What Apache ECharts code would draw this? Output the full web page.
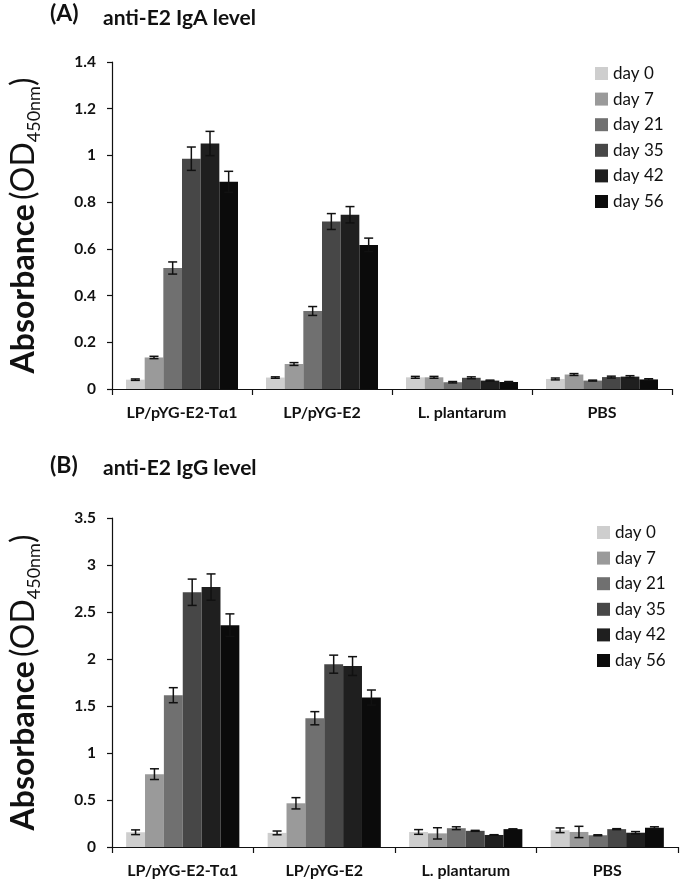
<!DOCTYPE html>
<html>
<head>
<meta charset="utf-8">
<script src="https://cdn.jsdelivr.net/npm/echarts@6/dist/echarts.min.js"></script>
<style>
html,body{margin:0;padding:0;background:#fff;}
#chart{width:680px;height:885px;}
</style>
</head>
<body>
<div id="chart"></div>
<script>
// ---- data ----
const categories = ['LP/pYG-E2-T\u03b11', 'LP/pYG-E2', 'L. plantarum', 'PBS'];
const days = ['day 0', 'day 7', 'day 21', 'day 35', 'day 42', 'day 56'];
const yTicksA = [0, 1.4, 0.2];   // min, max, interval
const yTicksB = [0, 3.5, 0.5];

// IgA means: one row per day, columns follow categories
const igaMeans = [
  [0.040, 0.049, 0.050, 0.043],
  [0.135, 0.107, 0.050, 0.062],
  [0.518, 0.334, 0.029, 0.036],
  [0.986, 0.717, 0.048, 0.051],
  [1.051, 0.746, 0.036, 0.053],
  [0.887, 0.617, 0.030, 0.041]
];
const igaErrors = [
  [0.003, 0.003, 0.004, 0.004],
  [0.005, 0.006, 0.004, 0.004],
  [0.026, 0.019, 0.003, 0.002],
  [0.050, 0.034, 0.004, 0.004],
  [0.052, 0.035, 0.002, 0.004],
  [0.045, 0.029, 0.002, 0.003]
];
// IgG means / errors
const iggMeans = [
  [0.157, 0.150, 0.160, 0.178],
  [0.775, 0.465, 0.145, 0.160],
  [1.615, 1.370, 0.200, 0.125],
  [2.710, 1.945, 0.172, 0.190],
  [2.765, 1.925, 0.128, 0.152],
  [2.360, 1.590, 0.190, 0.205]
];
const iggErrors = [
  [0.025, 0.020, 0.025, 0.025],
  [0.057, 0.060, 0.060, 0.060],
  [0.080, 0.070, 0.015, 0.005],
  [0.140, 0.096, 0.005, 0.005],
  [0.140, 0.100, 0.003, 0.012],
  [0.120, 0.080, 0.003, 0.010]
];

// ---- styling ----
const dayColors = ['#cecece', '#9a9a9a', '#707070', '#474747', '#1f1f1f', '#0b0b0b'];
const FONT = 'Lato, "Open Sans", sans-serif';
const CAT_GAP = 0.2;

function barSeries(gridIdx, means) {
  return days.map((d, i) => ({
    name: d,
    type: 'bar',
    xAxisIndex: gridIdx,
    yAxisIndex: gridIdx,
    data: means[i],
    barGap: '0%',
    barCategoryGap: (CAT_GAP * 100) + '%',
    itemStyle: { color: dayColors[i] },
    emphasis: { disabled: true },
    silent: true
  }));
}

function errorSeries(gridIdx, means, errs) {
  const data = [];
  for (let d = 0; d < days.length; d++) {
    for (let c = 0; c < categories.length; c++) {
      data.push([c, d, means[d][c], errs[d][c]]);
    }
  }
  return {
    type: 'custom',
    xAxisIndex: gridIdx,
    yAxisIndex: gridIdx,
    silent: true,
    z: 10,
    encode: { x: 0, y: 2 },
    data: data,
    renderItem: function (params, api) {
      const c = api.value(0), d = api.value(1), m = api.value(2), e = api.value(3);
      const base = api.coord([c, m]);
      const band = api.size([1, 0])[0];
      const groupW = band * (1 - CAT_GAP);
      const bw = groupW / days.length;
      const x = base[0] - groupW / 2 + (d + 0.5) * bw;
      const yt = api.coord([c, m + e])[1];
      const yb = api.coord([c, m - e])[1];
      const cap = 4.5;
      const st = { stroke: '#111', lineWidth: 1.5 };
      return {
        type: 'group',
        children: [
          { type: 'line', shape: { x1: x, y1: yt, x2: x, y2: yb }, style: st },
          { type: 'line', shape: { x1: x - cap, y1: yt, x2: x + cap, y2: yt }, style: st },
          { type: 'line', shape: { x1: x - cap, y1: yb, x2: x + cap, y2: yb }, style: st }
        ]
      };
    }
  };
}

function xAxis(gridIdx) {
  return {
    type: 'category',
    gridIndex: gridIdx,
    data: categories,
    axisLine: { lineStyle: { color: '#111', width: 1.2 } },
    axisTick: { show: true, length: 6, lineStyle: { color: '#111', width: 1.2 } },
    axisLabel: { color: '#111', fontFamily: FONT, fontWeight: 'bold', fontSize: 16, margin: 16, interval: 0, hideOverlap: false },
    splitLine: { show: false }
  };
}

function yAxis(gridIdx, t) {
  return {
    type: 'value',
    gridIndex: gridIdx,
    min: t[0], max: t[1], interval: t[2],
    axisLine: { show: true, lineStyle: { color: '#111', width: 1.2 } },
    axisTick: { show: true, length: 5, lineStyle: { color: '#111', width: 1.2 } },
    axisLabel: { color: '#111', fontFamily: FONT, fontWeight: 'bold', fontSize: 15.5, margin: 16 },
    splitLine: { show: false },
    name: '{a|Absorbance}{b|(OD}{c|450nm}{b|)}',
    nameLocation: 'middle',
    nameRotate: 90,
    nameGap: 72,
    nameTextStyle: {
      fontFamily: FONT,
      color: '#111',
      rich: {
        a: { fontFamily: FONT, fontSize: 32, fontWeight: 'bold', color: '#111', lineHeight: 35, verticalAlign: 'bottom', padding: [0, 4, 0, 0] },
        b: { fontFamily: FONT, fontSize: 32, fontWeight: 'normal', color: '#111', lineHeight: 35, verticalAlign: 'bottom' },
        c: { fontFamily: FONT, fontSize: 18, fontWeight: 'normal', color: '#111', lineHeight: 35, verticalAlign: 'bottom', padding: [0, 0, -3, 0] }
      }
    }
  };
}

function legend(left, top) {
  return {
    orient: 'vertical',
    left: left, top: top,
    padding: 0,
    itemWidth: 13, itemHeight: 13,
    itemGap: 8.6,
    icon: 'rect',
    selectedMode: false,
    data: days,
    textStyle: { fontFamily: FONT, fontSize: 17, color: '#111', lineHeight: 17 }
  };
}

const chart = echarts.init(document.getElementById('chart'), null, { renderer: 'canvas' });
chart.setOption({
  backgroundColor: '#fff',
  animation: false,
  title: [
    { text: '(A)', left: 50, top: 2, padding: 0, textStyle: { fontFamily: FONT, fontSize: 23, fontWeight: 'bold', color: '#111' } },
    { text: 'anti-E2 IgA level', left: 103, top: 8, padding: 0, textStyle: { fontFamily: FONT, fontSize: 21, fontWeight: 'bold', color: '#111' } },
    { text: '(B)', left: 50, top: 454, padding: 0, textStyle: { fontFamily: FONT, fontSize: 23, fontWeight: 'bold', color: '#111' } },
    { text: 'anti-E2 IgG level', left: 103, top: 458, padding: 0, textStyle: { fontFamily: FONT, fontSize: 21, fontWeight: 'bold', color: '#111' } }
  ],
  legend: [legend(595, 65), legend(597, 524)],
  grid: [
    { left: 96, top: 62, width: 576, height: 327, containLabel: false },
    { left: 96, top: 518, width: 582, height: 329, containLabel: false }
  ],
  xAxis: [xAxis(0), xAxis(1)],
  yAxis: [yAxis(0, yTicksA), yAxis(1, yTicksB)],
  series: [].concat(
    barSeries(0, igaMeans),
    [errorSeries(0, igaMeans, igaErrors)],
    barSeries(1, iggMeans),
    [errorSeries(1, iggMeans, iggErrors)]
  )
});
</script>
</body>
</html>
